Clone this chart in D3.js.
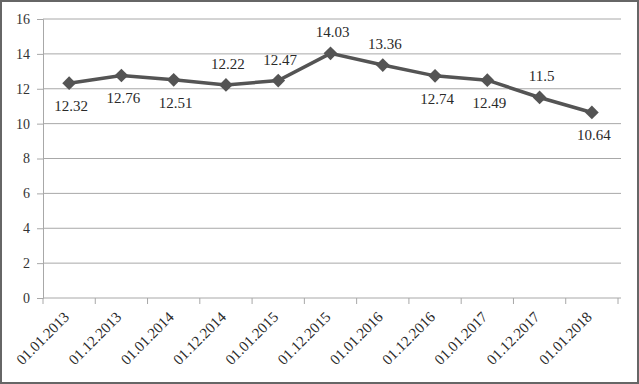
<!DOCTYPE html>
<html>
<head>
<meta charset="utf-8">
<script src="https://cdn.jsdelivr.net/npm/d3@7"></script>
<style>
  body { margin: 0; background: #fff; }
</style>
</head>
<body>
<div id="chart"></div>
<script>
var width = 639;
var height = 384;

var dates = ["01.01.2013", "01.12.2013", "01.01.2014", "01.12.2014", "01.01.2015", "01.12.2015",
             "01.01.2016", "01.12.2016", "01.01.2017", "01.12.2017", "01.01.2018"];
var values = [12.32, 12.76, 12.51, 12.22, 12.47, 14.03, 13.36, 12.74, 12.49, 11.5, 10.64];
var labelText = ["12.32", "12.76", "12.51", "12.22", "12.47", "14.03", "13.36", "12.74", "12.49", "11.5", "10.64"];
var labelAbove = [false, false, false, true, true, true, true, false, false, true, false];
var yTicks = [0, 2, 4, 6, 8, 10, 12, 14, 16];

var serif = "'Liberation Serif', 'Times New Roman', serif";

var svg = d3.select("#chart").append("svg")
    .attr("width", width)
    .attr("height", height);

// outer frame
svg.append("rect")
    .attr("x", 1)
    .attr("y", 1)
    .attr("width", width - 2)
    .attr("height", height - 2)
    .attr("fill", "#fff")
    .style("stroke", "#666")
    .style("stroke-width", 2);

var x = d3.scaleBand().domain(dates).range([43, 618]);
var y = d3.scaleLinear().domain([0, 16]).range([298, 19]);

// gridlines
svg.append("g").selectAll("line")
    .data(yTicks.filter(function(d) { return d > 0; }))
    .enter().append("line")
    .attr("x1", 43)
    .attr("x2", 621)
    .attr("y1", function(d) { return y(d); })
    .attr("y2", function(d) { return y(d); })
    .style("stroke", "#a8a8a8")
    .style("stroke-width", 1);

// y axis
var yAxis = svg.append("g")
    .attr("transform", "translate(43,0)")
    .call(d3.axisLeft(y).tickValues(yTicks).tickSize(6).tickPadding(7));
yAxis.select(".domain").style("stroke", "#a8a8a8");
yAxis.selectAll("line").style("stroke", "#a8a8a8");
yAxis.selectAll("text")
    .style("font-family", serif)
    .style("font-size", "14px")
    .style("fill", "#333");

// x axis
var xAxis = svg.append("g")
    .attr("transform", "translate(0,298)")
    .call(d3.axisBottom(x).tickSize(0).tickSizeOuter(0));
xAxis.select(".domain").attr("d", "M43,0H621").style("stroke", "#a8a8a8");
xAxis.selectAll(".tick line").remove();
xAxis.selectAll(".tick")
    .attr("transform", function(d) { return "translate(" + (x(d) + x.bandwidth() / 2 + 1) + ",20)"; });
xAxis.selectAll("text")
    .attr("x", 0)
    .attr("y", 0)
    .attr("dy", 0)
    .attr("transform", "rotate(-45)")
    .style("font-family", serif)
    .style("font-size", "15px")
    .style("fill", "#2a2a2a")
    .style("text-anchor", "end");

// small tick marks between categories
svg.append("g").selectAll("line")
    .data(dates.concat(["end"]))
    .enter().append("line")
    .attr("x1", function(d, i) { return 43 + i * x.step(); })
    .attr("x2", function(d, i) { return 43 + i * x.step(); })
    .attr("y1", 298)
    .attr("y2", 304)
    .style("stroke", "#a8a8a8");

var cx = function(d, i) { return x(dates[i]) + x.bandwidth() / 2; };

var line = d3.line()
    .x(function(d, i) { return cx(d, i); })
    .y(function(d) { return y(d); });

svg.append("path")
    .datum(values)
    .attr("d", line)
    .attr("fill", "none")
    .style("stroke", "#545454")
    .style("stroke-width", 3.5);

svg.append("g").selectAll("path")
    .data(values)
    .enter().append("path")
    .attr("d", d3.symbol().type(d3.symbolDiamond2).size(120))
    .attr("transform", function(d, i) { return "translate(" + [cx(d, i), y(d)] + ")"; })
    .attr("fill", "#545454");

svg.append("g").selectAll("text")
    .data(values)
    .enter().append("text")
    .attr("x", function(d, i) { return cx(d, i) + 2; })
    .attr("y", function(d, i) { return labelAbove[i] ? y(d) - 16 : y(d) + 28; })
    .text(function(d, i) { return labelText[i]; })
    .style("text-anchor", "middle")
    .style("font-family", serif)
    .style("font-size", "15px")
    .style("fill", "#2a2a2a");
</script>
</body>
</html>
